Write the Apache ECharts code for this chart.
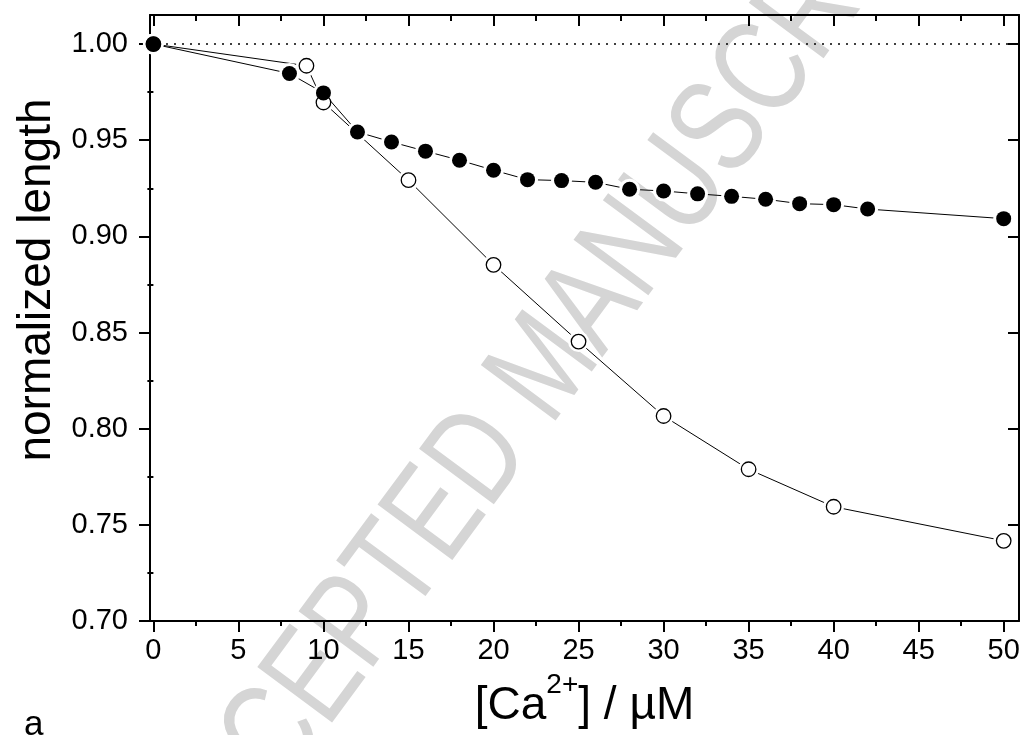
<!DOCTYPE html>
<html><head><meta charset="utf-8">
<script src="https://cdn.jsdelivr.net/npm/echarts@6/dist/echarts.min.js"></script>
<style>html,body{margin:0;padding:0;background:#fff}#c{width:1025px;height:735px}</style>
</head><body><div id="c"></div>
<script>
// ---- data ----
const filledX = [0, 8, 10, 12, 14, 16, 18, 20, 22, 24, 26, 28, 30, 32, 34, 36, 38, 40, 42, 50];
const filledY = [1.000, 0.9847, 0.9746, 0.9543, 0.9491, 0.9443, 0.9396, 0.9344, 0.9295, 0.9290, 0.9281, 0.9245, 0.9236, 0.9221, 0.9208, 0.9193, 0.9170, 0.9165, 0.9142, 0.9092];
const openX = [0, 9, 10, 15, 20, 25, 30, 35, 40, 50];
const openY = [1.000, 0.9887, 0.9696, 0.9292, 0.8852, 0.8453, 0.8066, 0.7789, 0.7594, 0.7417];
const xMajorTicks = [0, 5, 10, 15, 20, 25, 30, 35, 40, 45, 50];
const xMinorTicks = [2.5, 7.5, 12.5, 17.5, 22.5, 27.5, 32.5, 37.5, 42.5, 47.5];
const yMajorTicks = [0.70, 0.75, 0.80, 0.85, 0.90, 0.95, 1.00];
const yMinorTicks = [0.725, 0.775, 0.825, 0.875, 0.925, 0.975];
const refLevel = 1.00;
const xTitle = ['[Ca', '2+', '] / µM'];
const yTitle = 'normalized length';
const panelLabel = 'a';
const watermark = 'ACCEPTED MANUSCRIPT';

const FONT = 'Liberation Sans, Arial, Helvetica, sans-serif';
const X_MIN = -0.2, X_MAX = 50.9, Y_MIN = 0.70, Y_MAX = 1.0151;

const filledData = filledX.map((x, i) => [x, filledY[i]]);
const openData = openX.map((x, i) => [x, openY[i]]);

function xAx(opts) {
  return Object.assign({
    type: 'value', min: X_MIN, max: X_MAX, gridIndex: 0,
    splitLine: { show: false },
    axisLine: { show: true, onZero: false, lineStyle: { color: '#000', width: 2 } },
    axisLabel: { show: false },
    axisTick: { show: true }
  }, opts);
}
function yAx(opts) {
  return Object.assign({
    type: 'value', min: Y_MIN, max: Y_MAX, gridIndex: 0,
    splitLine: { show: false },
    axisLine: { show: true, onZero: false, lineStyle: { color: '#000', width: 2 } },
    axisLabel: { show: false },
    axisTick: { show: true }
  }, opts);
}

const chart = echarts.init(document.getElementById('c'), null, { renderer: 'canvas' });
chart.setOption({
  animation: false,
  backgroundColor: '#fff',
  grid: { left: 150, right: 6, top: 15, bottom: 114, containLabel: false, outerBoundsMode: 'none' },
  xAxis: [
    xAx({
      position: 'bottom',
      axisTick: { show: true, inside: false, length: 11, customValues: xMajorTicks, lineStyle: { color: '#000', width: 2 } },
      axisLabel: { show: true, customValues: xMajorTicks, margin: 15, fontSize: 29, color: '#000', fontFamily: FONT },
      name: '{n|' + xTitle[0] + '}{s|' + xTitle[1] + '}{n|' + xTitle[2] + '}',
      nameLocation: 'middle', nameGap: 50,
      nameTextStyle: {
        fontFamily: FONT, color: '#000',
        rich: {
          n: { fontSize: 46, lineHeight: 58, fontFamily: FONT, color: '#000', verticalAlign: 'bottom' },
          s: { fontSize: 28, lineHeight: 30, fontFamily: FONT, color: '#000', verticalAlign: 'top' }
        }
      }
    }),
    xAx({
      position: 'bottom', axisLine: { show: false },
      axisTick: { show: true, inside: false, length: 5, customValues: xMinorTicks, lineStyle: { color: '#000', width: 2 } }
    }),
    xAx({
      position: 'top',
      axisTick: { show: true, inside: true, length: 11, customValues: xMajorTicks, lineStyle: { color: '#000', width: 2 } }
    }),
    xAx({
      position: 'top', axisLine: { show: false },
      axisTick: { show: true, inside: true, length: 6, customValues: xMinorTicks, lineStyle: { color: '#000', width: 2 } }
    })
  ],
  yAxis: [
    yAx({
      position: 'left',
      axisTick: { show: true, inside: false, length: 11, customValues: yMajorTicks, lineStyle: { color: '#000', width: 2 } },
      axisLabel: { show: true, customValues: yMajorTicks, margin: 22, fontSize: 29, color: '#000', fontFamily: FONT,
        formatter: v => Number(v).toFixed(2) }
    }),
    yAx({
      position: 'left', axisLine: { show: false },
      axisTick: { show: true, inside: false, length: 5, customValues: yMinorTicks, lineStyle: { color: '#000', width: 2 } }
    }),
    yAx({
      position: 'right',
      axisTick: { show: true, inside: true, length: 11, customValues: yMajorTicks, lineStyle: { color: '#000', width: 2 } }
    }),
    yAx({
      position: 'right', axisLine: { show: false },
      axisTick: { show: true, inside: true, length: 6, customValues: yMinorTicks, lineStyle: { color: '#000', width: 2 } }
    })
  ],
  graphic: [
    {
      type: 'text', x: 548, y: 368, rotation: 53.5 * Math.PI / 180, scaleX: 1, scaleY: 1.3, z: -10, silent: true,
      style: { text: watermark, fontSize: 104, fontFamily: FONT, fill: '#d5d5d5',
        align: 'center', verticalAlign: 'middle', textAlign: 'center', textVerticalAlign: 'middle' }
    },
    {
      type: 'text', x: 37, y: 280, rotation: Math.PI / 2, silent: true,
      style: { text: yTitle, fontSize: 46, fontFamily: FONT, fill: '#000',
        align: 'center', verticalAlign: 'middle', textAlign: 'center', textVerticalAlign: 'middle' }
    },
    {
      type: 'text', x: 24, y: 743, silent: true,
      style: { text: panelLabel, fontSize: 35, fontFamily: FONT, fill: '#000',
        align: 'left', verticalAlign: 'bottom', textAlign: 'left', textVerticalAlign: 'bottom' }
    }
  ],
  series: [
    {
      name: 'open-line', type: 'line', data: openData, z: 2,
      xAxisIndex: 0, yAxisIndex: 0,
      lineStyle: { color: '#000', width: 1 },
      symbol: 'circle', symbolSize: 21, itemStyle: { color: '#fff', borderWidth: 0 },
      emphasis: { disabled: true }, silent: true
    },
    {
      name: 'filled-line', type: 'line', data: filledData, z: 3,
      xAxisIndex: 0, yAxisIndex: 0,
      lineStyle: { color: '#000', width: 1 },
      symbol: 'circle', symbolSize: 21, itemStyle: { color: '#fff', borderWidth: 0 },
      emphasis: { disabled: true }, silent: true,
      markLine: {
        silent: true, symbol: ['none', 'none'], label: { show: false },
        lineStyle: { color: '#000', type: [2, 6], width: 1.5 },
        data: [{ yAxis: refLevel }]
      }
    },
    {
      name: 'open', type: 'scatter', data: openData, z: 4,
      xAxisIndex: 0, yAxisIndex: 0,
      symbol: 'circle', symbolSize: 14.5,
      itemStyle: { color: '#fff', borderColor: '#000', borderWidth: 1.3, opacity: 1 },
      emphasis: { disabled: true }, silent: true
    },
    {
      name: 'filled', type: 'scatter', data: filledData, z: 5,
      xAxisIndex: 0, yAxisIndex: 0,
      symbol: 'circle', symbolSize: 15,
      itemStyle: { color: '#000', borderWidth: 0, opacity: 1 },
      emphasis: { disabled: true }, silent: true
    }
  ]
});
</script></body></html>
